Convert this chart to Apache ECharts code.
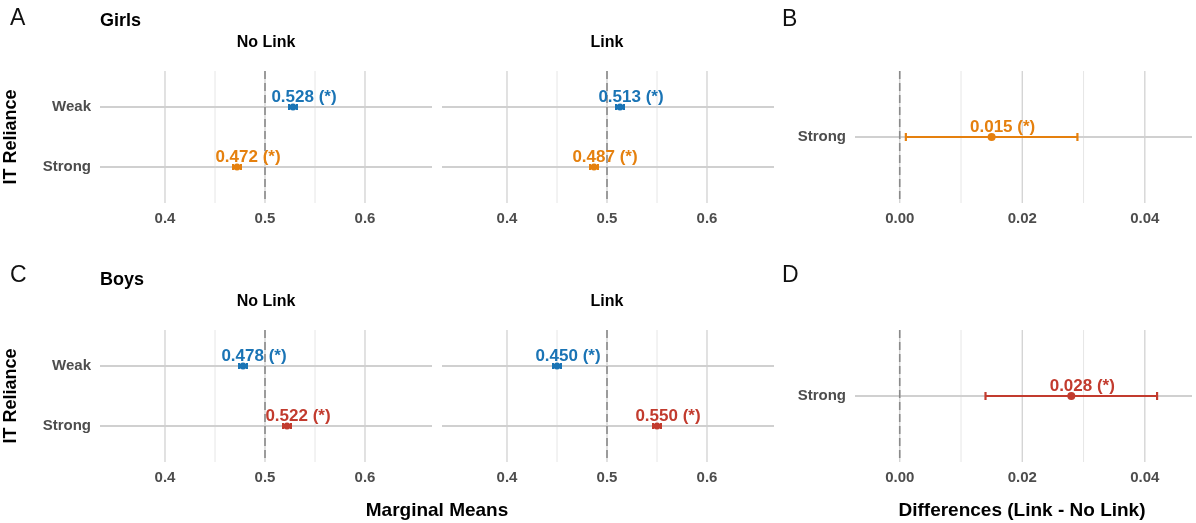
<!DOCTYPE html>
<html><head><meta charset="utf-8">
<script src="https://cdn.jsdelivr.net/npm/echarts@6/dist/echarts.min.js"></script>
<style>html,body{margin:0;padding:0;background:#fff}#c{width:1196px;height:523px}</style>
</head><body><div id="c"></div>
<script>
// ---------- data ----------
const itReliance = ['Strong', 'Weak'];          // y positions 1, 2
const linkConditions = ['No Link', 'Link'];
const groups = ['Girls', 'Boys'];
const panelLetters = ['A', 'B', 'C', 'D'];
const meansTicks = [0.4, 0.5, 0.6];
const meansMinor = [0.45, 0.55];
const diffTicks = [0.00, 0.02, 0.04];
const diffMinor = [0.01, 0.03];
const diffCategories = ['Strong'];
const meansRefValue = 0.5;
const diffRefValue = 0.0;

// marginal means, order [Strong, Weak]
const girlsNoLinkMean = [0.472, 0.528];
const girlsNoLinkLow  = [0.468, 0.524];
const girlsNoLinkHigh = [0.476, 0.532];
const girlsLinkMean   = [0.487, 0.513];
const girlsLinkLow    = [0.483, 0.509];
const girlsLinkHigh   = [0.491, 0.517];
const boysNoLinkMean  = [0.522, 0.478];
const boysNoLinkLow   = [0.518, 0.474];
const boysNoLinkHigh  = [0.526, 0.482];
const boysLinkMean    = [0.550, 0.450];
const boysLinkLow     = [0.546, 0.446];
const boysLinkHigh    = [0.554, 0.454];

// differences (Link - No Link), Strong only
const girlsDiffMean = [0.015];
const girlsDiffLow  = [0.001];
const girlsDiffHigh = [0.029];
const boysDiffMean  = [0.028];
const boysDiffLow   = [0.014];
const boysDiffHigh  = [0.042];

// ---------- style ----------
const FONT = '"Liberation Sans", Arial, sans-serif';
const BLUE = '#1A74B5', ORANGE = '#E5800E', RED = '#C23B2E';
const weakColor = BLUE;
const strongColor = { Girls: ORANGE, Boys: RED };

const rowTop = [71, 330];
const rowH = 132;
const cols = [
  { left: 100, width: 332, min: 0.335, max: 0.667 },
  { left: 442, width: 332, min: 0.335, max: 0.667 },
  { left: 855, width: 337, min: -0.0073, max: 0.0477 }
];

const panels = [
  { row: 0, col: 0, mean: girlsNoLinkMean, low: girlsNoLinkLow, high: girlsNoLinkHigh, group: 'Girls' },
  { row: 0, col: 1, mean: girlsLinkMean, low: girlsLinkLow, high: girlsLinkHigh, group: 'Girls' },
  { row: 0, col: 2, mean: girlsDiffMean, low: girlsDiffLow, high: girlsDiffHigh, group: 'Girls', diff: true },
  { row: 1, col: 0, mean: boysNoLinkMean, low: boysNoLinkLow, high: boysNoLinkHigh, group: 'Boys' },
  { row: 1, col: 1, mean: boysLinkMean, low: boysLinkLow, high: boysLinkHigh, group: 'Boys' },
  { row: 1, col: 2, mean: boysDiffMean, low: boysDiffLow, high: boysDiffHigh, group: 'Boys', diff: true }
];

const grid = [], xAxis = [], yAxis = [], series = [];

function vLines(gi, xs, color, width, dash, z) {
  return {
    type: 'custom', xAxisIndex: gi, yAxisIndex: gi, z: z, silent: true,
    data: xs.map(v => [v, 1]),
    encode: { x: 0, y: 1 },
    renderItem: function (params, api) {
      const cs = params.coordSys;
      const x = api.coord([api.value(0), api.value(1)])[0];
      return { type: 'line', shape: { x1: x, y1: cs.y, x2: x, y2: cs.y + cs.height },
        style: { stroke: color, lineWidth: width, lineDash: dash || null } };
    }
  };
}
function hLines(gi, ys, xMid, color, width, z) {
  return {
    type: 'custom', xAxisIndex: gi, yAxisIndex: gi, z: z, silent: true,
    data: ys.map(v => [xMid, v]),
    encode: { x: 0, y: 1 },
    renderItem: function (params, api) {
      const cs = params.coordSys;
      const y = api.coord([api.value(0), api.value(1)])[1];
      return { type: 'line', shape: { x1: cs.x, y1: y, x2: cs.x + cs.width, y2: y },
        style: { stroke: color, lineWidth: width } };
    }
  };
}

panels.forEach((p, gi) => {
  const c = cols[p.col];
  const cats = p.diff ? diffCategories : itReliance;
  const yMax = cats.length + 0.6;
  grid.push({ left: c.left, width: c.width, top: rowTop[p.row], height: rowH });
  xAxis.push({
    gridIndex: gi, type: 'value', min: c.min, max: c.max,
    axisLine: { show: false }, axisTick: { show: false }, splitLine: { show: false },
    axisLabel: {
      customValues: p.diff ? diffTicks : meansTicks,
      formatter: v => p.diff ? v.toFixed(2) : v.toFixed(1),
      color: '#4d4d4d', fontWeight: 'bold', fontSize: 15, fontFamily: FONT, margin: 8
    }
  });
  yAxis.push({
    gridIndex: gi, type: 'value', min: 0.4, max: yMax,
    axisLine: { show: false }, axisTick: { show: false }, splitLine: { show: false },
    axisLabel: {
      show: p.col !== 1,
      customValues: cats.map((_, i) => i + 1),
      formatter: v => cats[Math.round(v) - 1],
      color: '#4d4d4d', fontWeight: 'bold', fontSize: 15, fontFamily: FONT, margin: 9
    },
    name: p.col === 0 ? 'IT Reliance' : '',
    nameLocation: 'middle', nameRotate: 90, nameGap: 80,
    nameTextStyle: { fontSize: 18, fontWeight: 'bold', color: '#000', fontFamily: FONT }
  });

  const minor = p.diff ? diffMinor : meansMinor;
  const major = (p.diff ? diffTicks : meansTicks);
  const xMid = (c.min + c.max) / 2;
  series.push(vLines(gi, minor, '#e6e6e6', 1, null, 1));
  series.push(vLines(gi, major, '#d2d2d2', 1.3, null, 1));
  series.push(hLines(gi, cats.map((_, i) => i + 1), xMid, '#d0d0d0', 1.8, 1));
  series.push(vLines(gi, [p.diff ? diffRefValue : meansRefValue], '#8a8a8a', 1.6, [8, 4], 2));

  const colorOf = i => p.diff ? strongColor[p.group] : (cats[i] === 'Weak' ? weakColor : strongColor[p.group]);
  const cap = p.diff ? 4 : 3;
  const lw = p.diff ? 2.2 : 2;
  series.push({
    type: 'custom', xAxisIndex: gi, yAxisIndex: gi, z: 3,
    data: p.mean.map((m, i) => ({ value: [p.low[i], p.high[i], i + 1], itemStyle: { color: colorOf(i) } })),
    encode: { x: [0, 1], y: 2 },
    renderItem: function (params, api) {
      const a = api.coord([api.value(0), api.value(2)]);
      const b = api.coord([api.value(1), api.value(2)]);
      const st = { stroke: api.visual('color'), lineWidth: lw };
      return { type: 'group', children: [
        { type: 'line', shape: { x1: a[0], y1: a[1], x2: b[0], y2: b[1] }, style: st },
        { type: 'line', shape: { x1: a[0], y1: a[1] - cap, x2: a[0], y2: a[1] + cap }, style: st },
        { type: 'line', shape: { x1: b[0], y1: b[1] - cap, x2: b[0], y2: b[1] + cap }, style: st }
      ] };
    }
  });
  series.push({
    type: 'scatter', xAxisIndex: gi, yAxisIndex: gi, z: 4,
    symbolSize: p.diff ? 8 : 7,
    itemStyle: { opacity: 1 },
    data: p.mean.map((m, i) => ({
      value: [m, i + 1],
      itemStyle: { color: colorOf(i), opacity: 1 },
      label: { color: colorOf(i), opacity: 1 }
    })),
    label: {
      show: true, position: 'inside', offset: [11, -10],
      formatter: q => q.value[0].toFixed(3) + ' (*)',
      fontWeight: 'bold', fontSize: 17, fontFamily: FONT
    }
  });
});

const txt = (text, x, y, size, weight, align, color) => ({
  type: 'text', x: x, y: y, silent: true,
  style: { text: text, fontSize: size, fontWeight: weight, fontFamily: FONT,
    fill: color || '#000', align: align || 'left', verticalAlign: 'middle' }
});

const graphic = [
  txt(panelLetters[0], 10, 19, 23, 'normal', 'left', '#111'),
  txt(panelLetters[1], 782, 20, 23, 'normal', 'left', '#111'),
  txt(panelLetters[2], 10, 276, 23, 'normal', 'left', '#111'),
  txt(panelLetters[3], 782, 276, 23, 'normal', 'left', '#111'),
  txt(groups[0], 100, 21, 18, 'bold'),
  txt(groups[1], 100, 280, 18, 'bold'),
  txt(linkConditions[0], 266, 43, 16, 'bold', 'center'),
  txt(linkConditions[1], 607, 43, 16, 'bold', 'center'),
  txt(linkConditions[0], 266, 302, 16, 'bold', 'center'),
  txt(linkConditions[1], 607, 302, 16, 'bold', 'center'),
  txt('Marginal Means', 437, 511, 19, 'bold', 'center'),
  txt('Differences (Link - No Link)', 1022, 511, 19, 'bold', 'center')
];

const chart = echarts.init(document.getElementById('c'), null, { renderer: 'canvas' });
chart.setOption({
  animation: false,
  backgroundColor: '#fff',
  grid, xAxis, yAxis, series, graphic
});
</script>
</body></html>
